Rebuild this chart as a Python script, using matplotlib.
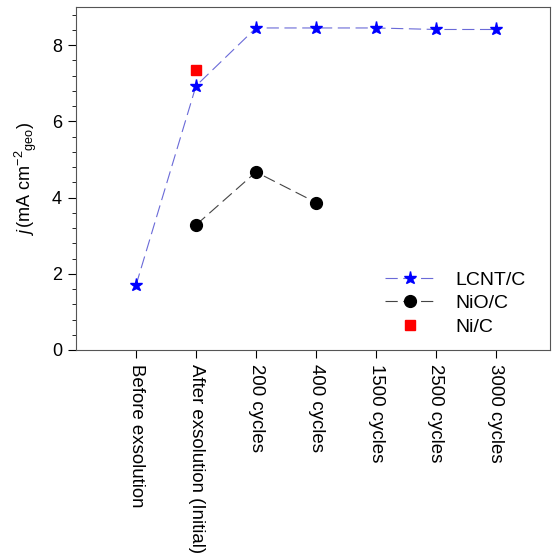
import matplotlib
matplotlib.use("Agg")
import matplotlib.pyplot as plt
import numpy as np
from matplotlib.ticker import MultipleLocator

plt.rcParams['font.family'] = ['Liberation Sans', 'DejaVu Sans']
plt.rcParams['mathtext.fontset'] = 'custom'
plt.rcParams['mathtext.rm'] = 'Liberation Sans'
plt.rcParams['mathtext.it'] = 'Liberation Sans:italic'

stages = ["Before exsolution", "After exsolution (Initial)", "200 cycles",
          "400 cycles", "1500 cycles", "2500 cycles", "3000 cycles"]
lcnt = [1.70, 6.93, 8.45, 8.45, 8.45, 8.41, 8.41]
nio = [np.nan, 3.28, 4.67, 3.87, np.nan, np.nan, np.nan]
ni_x = [1]
ni = [7.35]

x = np.arange(len(stages))

fig = plt.figure(figsize=(5.56, 5.55), dpi=100)
ax = fig.add_axes([76 / 556, 1 - 350 / 555, (550 - 76) / 556, (350 - 7) / 555])

ax.plot(x, lcnt, color="#6a6ad8", lw=0.8, ls=(0, (11, 5)), marker="*",
        ms=9.5, mfc="blue", mec="blue", label="LCNT/C")
ax.plot(x, nio, color="#444444", lw=0.8, ls=(0, (11, 5)), marker="o",
        ms=8.5, mfc="black", mec="black", label="NiO/C")
ax.plot(ni_x, ni, ls="none", marker="s", ms=7, mfc="red", mec="red",
        label="Ni/C")

ax.set_xlim(-1, 6.9)
ax.set_ylim(0, 9)
ax.set_xticks(x)
ax.set_xticklabels(stages, rotation=-90, fontsize=13.4)
ax.yaxis.set_major_locator(MultipleLocator(2))
ax.yaxis.set_minor_locator(MultipleLocator(0.4))
ax.tick_params(axis="y", labelsize=13, direction="out", length=6, pad=4)
ax.tick_params(axis="y", which="minor", length=3)
ax.tick_params(axis="x", direction="out", length=6, pad=4)
ax.set_ylabel(r"$j\,$(mA cm$^{-2}$$_{\mathrm{geo}}$)", fontsize=13, labelpad=9)

for s in ax.spines.values():
    s.set_color("#555555")

ax.legend(loc="upper left", frameon=False, fontsize=14,
          bbox_to_anchor=((385 - 76) / 474, (350 - 271) / 343),
          borderpad=0, borderaxespad=0, handlelength=2.6,
          handletextpad=1.0, labelspacing=0.3)

fig.savefig("out.png", dpi=100)
